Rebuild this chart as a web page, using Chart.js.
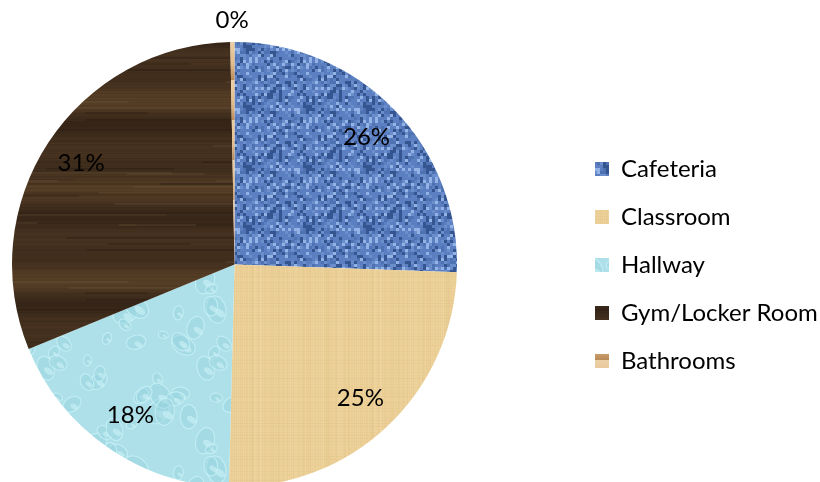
<!DOCTYPE html>
<html>
<head>
<meta charset="utf-8">
<script src="https://cdn.jsdelivr.net/npm/chart.js@4"></script>
<style>
  html, body { margin: 0; padding: 0; background: #fff; }
  #wrap { width: 820px; height: 482px; }
</style>
</head>
<body>
<div id="wrap"><canvas id="myChart" width="820" height="482"></canvas></div>
<script>
// chart data
const categories = ['Cafeteria', 'Classroom', 'Hallway', 'Gym/Locker Room', 'Bathrooms'];
const shares = [25.55, 24.85, 18.4, 30.9, 0.3];

const canvas = document.getElementById('myChart');
const ctx = canvas.getContext('2d');

// deterministic hash used for the texture tiles
function noise(i) {
    const x = Math.sin(i * 12.9898 + 78.233) * 43758.5453;
    return x - Math.floor(x);
}

function makePattern(w, h, draw) {
    const tile = document.createElement('canvas');
    tile.width = w;
    tile.height = h;
    draw(tile.getContext('2d'), w, h);
    return ctx.createPattern(tile, 'repeat');
}

// blue woven cloth
const cloth = makePattern(60, 60, function (c, w, h) {
    c.fillStyle = '#587cbd';
    c.fillRect(0, 0, w, h);
    for (let y = 0; y < h; y += 3) {
        for (let x = 0; x < w; x += 3) {
            const n = noise(x * 7 + y * 131);
            const across = ((x / 3 >> 1) + (y / 3 >> 1)) % 2 === 0;
            let col;
            if (n < 0.2) col = '#34558f';
            else if (n < 0.5) col = across ? '#4e72b2' : '#6a8dcb';
            else if (n < 0.85) col = '#5b7fc1';
            else col = '#93b3e6';
            c.fillStyle = col;
            c.fillRect(x, y, 3, 3);
        }
    }
});

// parchment
const parchment = makePattern(120, 120, function (c, w, h) {
    c.fillStyle = '#ebcf96';
    c.fillRect(0, 0, w, h);
    for (let x = 0; x < w; x++) {
        const n = noise(x * 3.1);
        c.fillStyle = n < 0.5 ? 'rgba(214,180,115,' + (0.25 * n) + ')' : 'rgba(250,230,185,' + (0.5 * (n - 0.5)) + ')';
        c.fillRect(x, 0, 1, h);
    }
    for (let y = 0; y < h; y += 3) {
        const n = noise(y * 5.7 + 11);
        c.fillStyle = 'rgba(205,170,110,' + (0.15 * n) + ')';
        c.fillRect(0, y, w, 1);
    }
});

// water drops, kept soft
const water = makePattern(160, 160, function (c, w, h) {
    c.fillStyle = '#ade0e9';
    c.fillRect(0, 0, w, h);
    for (let i = 0; i < 40; i++) {
        const x = noise(i * 17 + 1) * w;
        const y = noise(i * 29 + 5) * h;
        const r = 4 + noise(i * 41 + 9) * 11;
        for (let dx = -w; dx <= w; dx += w) {
            for (let dy = -h; dy <= h; dy += h) {
                c.beginPath();
                c.ellipse(x + dx, y + dy, r, r * 0.7, noise(i) * 3, 0, Math.PI * 2);
                c.fillStyle = 'rgba(150,210,222,0.45)';
                c.fill();
                c.strokeStyle = 'rgba(200,240,246,0.8)';
                c.lineWidth = 1.2;
                c.stroke();
                c.beginPath();
                c.ellipse(x + dx + r * 0.25, y + dy + r * 0.25, r * 0.45, r * 0.25, 0.6, 0, Math.PI * 2);
                c.fillStyle = 'rgba(205,242,247,0.6)';
                c.fill();
            }
        }
    }
});

// dark wood
const wood = makePattern(400, 180, function (c, w, h) {
    for (let y = 0; y < h; y++) {
        const band = 0.5 + 0.25 * Math.sin(y * 2 * Math.PI / 45) + 0.25 * Math.sin(y * 2 * Math.PI / 90 + 1.3);
        const n = noise(y * 2.3);
        const v = band * 0.8 + n * 0.2;
        const r = Math.round(45 + v * 45);
        const g = Math.round(31 + v * 34);
        const b = Math.round(20 + v * 20);
        c.fillStyle = 'rgb(' + r + ',' + g + ',' + b + ')';
        c.fillRect(0, y, w, 1);
    }
    for (let i = 0; i < 30; i++) {
        const y = Math.floor(noise(i * 7 + 3) * h);
        const x = noise(i * 11 + 2) * w;
        const len = 60 + noise(i * 5) * 200;
        c.fillStyle = i % 2 ? 'rgba(25,16,10,0.2)' : 'rgba(130,105,75,0.18)';
        c.fillRect(x, y, len, 2);
        c.fillRect(x - w, y, len, 2);
    }
});

// bathroom tan
const tan = makePattern(8, 40, function (c, w, h) {
    const g = c.createLinearGradient(0, 0, 0, h);
    g.addColorStop(0, '#ecd0a6');
    g.addColorStop(0.6, '#e2bb8a');
    g.addColorStop(1, '#b98a58');
    c.fillStyle = g;
    c.fillRect(0, 0, w, h);
});

const fills = [cloth, parchment, water, wood, tan];

// percent labels inside slices (outside for tiny slices)
const sliceLabels = {
    id: 'sliceLabels',
    afterDatasetsDraw(chart) {
        const meta = chart.getDatasetMeta(0);
        const data = chart.data.datasets[0].data;
        const total = data.reduce((a, b) => a + b, 0);
        const c = chart.ctx;
        c.save();
        c.font = '24px Lato';
        c.fillStyle = '#000';
        c.textAlign = 'center';
        c.textBaseline = 'middle';
        meta.data.forEach((arc, i) => {
            const p = arc.getProps(['x', 'y', 'startAngle', 'endAngle', 'outerRadius'], true);
            const mid = (p.startAngle + p.endAngle) / 2;
            const pct = data[i] / total * 100;
            const r = pct < 2 ? p.outerRadius + 22 : p.outerRadius * 0.825;
            c.fillText(Math.round(pct) + '%', p.x + Math.cos(mid) * r, p.y + Math.sin(mid) * r);
        });
        c.restore();
    }
};

// put legend and pie where the original has them
const placement = {
    id: 'placement',
    beforeLayout(chart) {
        const lg = chart.legend;
        if (lg && !lg._patched) {
            const fit = lg.fit;
            lg.fit = function () {
                fit.call(this);
                this.width = 820 - 571;
            };
            lg._patched = true;
        }
    },
    afterLayout(chart) {
        chart.chartArea = { left: 12, top: 42, right: 457, bottom: 487, width: 445, height: 445 };
    }
};

new Chart(ctx, {
    type: 'pie',
    data: {
        labels: categories,
        datasets: [{
            data: shares,
            backgroundColor: fills,
            borderWidth: 0
        }]
    },
    options: {
        responsive: false,
        animation: false,
        layout: { padding: { top: 48 } },
        plugins: {
            legend: {
                position: 'right',
                labels: {
                    boxWidth: 14,
                    boxHeight: 14,
                    padding: 24,
                    color: '#000',
                    font: { family: 'Lato', size: 24 }
                }
            },
            tooltip: { enabled: false }
        }
    },
    plugins: [sliceLabels, placement]
});
</script>
</body>
</html>
